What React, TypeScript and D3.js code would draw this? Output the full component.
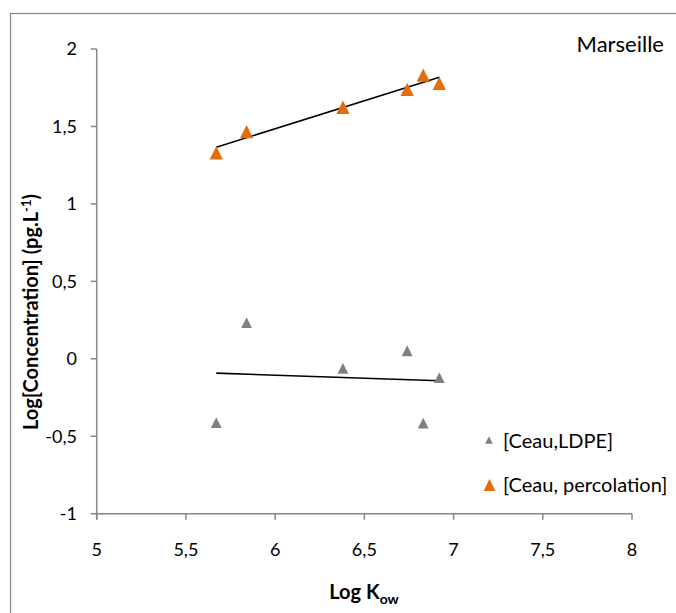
import React from "react";
import * as d3 from "d3";

const kow = [5.67, 5.84, 6.38, 6.74, 6.83, 6.92];
const ldpe = [-0.412, 0.233, -0.062, 0.052, -0.416, -0.122];
const percolation = [1.33, 1.466, 1.624, 1.74, 1.832, 1.778];
const xTicks = [5, 5.5, 6, 6.5, 7, 7.5, 8];
const yTicks = [-1, -0.5, 0, 0.5, 1, 1.5, 2];
const seriesNames = ["[Ceau,LDPE]", "[Ceau, percolation]"];
const title = "Marseille";

const W = 676;
const H = 613;
const FONT = "Lato, 'Open Sans', sans-serif";

function fmt(v: number) {
  return String(v).replace(".", ",");
}

// triangle whose width equals its height, centred on its bounding box
const squareTriangle = {
  draw(ctx: any, size: number) {
    const s = Math.sqrt(2 * size);
    ctx.moveTo(0, -s / 2);
    ctx.lineTo(s / 2, s / 2);
    ctx.lineTo(-s / 2, s / 2);
    ctx.closePath();
  },
};

function regression(xs: number[], ys: number[]) {
  const mx = d3.mean(xs)!;
  const my = d3.mean(ys)!;
  let sxy = 0, sxx = 0;
  xs.forEach((x, i) => {
    sxy += (x - mx) * (ys[i] - my);
    sxx += (x - mx) * (x - mx);
  });
  const slope = sxy / sxx;
  const icpt = my - slope * mx;
  const x0 = d3.min(xs)!;
  const x1 = d3.max(xs)!;
  return [
    [x0, icpt + slope * x0],
    [x1, icpt + slope * x1],
  ];
}

export default function App() {
  const x = d3.scaleLinear().domain([5, 8]).range([96.7, 632]);
  const y = d3.scaleLinear().domain([-1, 2]).range([513.7, 49]);
  const axisColor = "#868686";
  const orange = "#E46C0A";
  const gray = "#808080";
  const triBig = d3.symbol(squareTriangle, 88)()!;
  const triSmall = d3.symbol(squareTriangle, 58)()!;
  const triLegGray = d3.symbol(squareTriangle, 30)()!;
  const triLegOrange = d3.symbol(squareTriangle, 70)()!;
  const line = d3
    .line<number[]>()
    .x((d) => x(d[0]))
    .y((d) => y(d[1]));
  const regO = regression(kow, percolation);
  const regG = regression(kow, ldpe);

  return (
    <svg
      width={W}
      height={H}
      style={{ position: "absolute", left: 0, top: 0, background: "#fff" }}
      fontFamily={FONT}
    >
      <rect x={0} y={0} width={W} height={H} fill="#fff" />
      <rect x={10.5} y={13.5} width={W + 10} height={H + 10} fill="none" stroke={axisColor} strokeWidth={1.2} />
      {/* axes */}
      <line x1={x(5)} x2={x(8)} y1={y(-1)} y2={y(-1)} stroke={axisColor} strokeWidth={1.5} />
      <line x1={x(5)} x2={x(5)} y1={y(-1) + 6} y2={y(2)} stroke={axisColor} strokeWidth={1.5} />
      {xTicks.map((t) => (
        <g key={"xt" + t}>
          <line x1={x(t)} x2={x(t)} y1={y(-1)} y2={y(-1) + 6} stroke={axisColor} strokeWidth={1.5} />
          <text x={x(t)} y={550} dy="0.35em" textAnchor="middle" fontSize={18} fill="#000">
            {fmt(t)}
          </text>
        </g>
      ))}
      {yTicks.map((t) => (
        <g key={"yt" + t}>
          <line x1={x(5) - 6} x2={x(5)} y1={y(t)} y2={y(t)} stroke={axisColor} strokeWidth={1.5} />
          <text x={77} y={y(t)} dy="0.35em" textAnchor="end" fontSize={18} fill="#000">
            {fmt(t)}
          </text>
        </g>
      ))}
      {/* trend lines */}
      <path d={line(regG)!} stroke="#000" strokeWidth={1.6} fill="none" />
      <path d={line(regO)!} stroke="#000" strokeWidth={1.6} fill="none" />
      {/* points */}
      {kow.map((k, i) => (
        <path key={"g" + i} d={triSmall} transform={`translate(${x(k)},${y(ldpe[i])})`} fill={gray} />
      ))}
      {kow.map((k, i) => (
        <path key={"o" + i} d={triBig} transform={`translate(${x(k)},${y(percolation[i])})`} fill={orange} />
      ))}
      {/* title */}
      <text x={664} y={52} textAnchor="end" fontSize={22} fill="#000">
        {title}
      </text>
      {/* legend */}
      <path d={triLegGray} transform="translate(489,440)" fill={gray} />
      <text x={503} y={441} dy="0.35em" fontSize={20} fill="#000">
        {seriesNames[0]}
      </text>
      <path d={triLegOrange} transform="translate(489.5,485)" fill={orange} />
      <text x={503} y={485} dy="0.35em" fontSize={20} fill="#000">
        {seriesNames[1]}
      </text>
      {/* axis titles */}
      <text x={364} y={592} dy="0.35em" textAnchor="middle" fontSize={20} fontWeight="bold" fill="#000">
        Log K<tspan fontSize={14} dy="5">ow</tspan>
      </text>
      <text
        transform="translate(31,312) rotate(-90)"
        textAnchor="middle"
        dy="0.35em"
        fontSize={20}
        fontWeight="bold"
        fill="#000"
      >
        Log[Concentration] (pg.L<tspan fontSize={13} dy="-7">-1</tspan>
        <tspan dy="7">)</tspan>
      </text>
    </svg>
  );
}
